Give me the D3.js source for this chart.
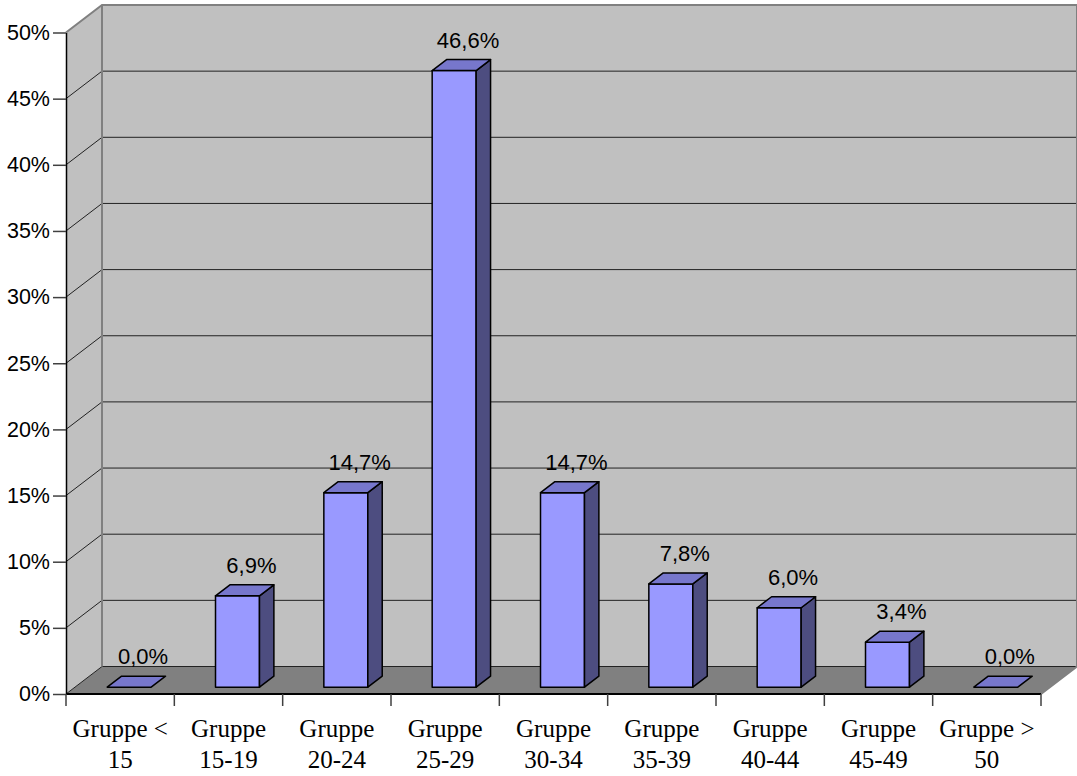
<!DOCTYPE html>
<html>
<head>
<meta charset="utf-8">
<script src="https://cdn.jsdelivr.net/npm/d3@7"></script>
<style>
  html, body { margin: 0; padding: 0; background: #fff; }
  svg { display: block; }
</style>
</head>
<body>
<svg id="chart" width="1077" height="776"></svg>
<script>
// Altersgruppen und ihre Anteile
const categories = ["Gruppe < 15", "Gruppe 15-19", "Gruppe 20-24", "Gruppe 25-29", "Gruppe 30-34",
                    "Gruppe 35-39", "Gruppe 40-44", "Gruppe 45-49", "Gruppe > 50"];
const labelLines = [["Gruppe <", "15"], ["Gruppe", "15-19"], ["Gruppe", "20-24"], ["Gruppe", "25-29"],
                    ["Gruppe", "30-34"], ["Gruppe", "35-39"], ["Gruppe", "40-44"], ["Gruppe", "45-49"],
                    ["Gruppe >", "50"]];
const values = [0.000, 0.069, 0.147, 0.466, 0.147, 0.078, 0.060, 0.034, 0.000];
const yTicks = [0, 0.05, 0.10, 0.15, 0.20, 0.25, 0.30, 0.35, 0.40, 0.45, 0.50];

const svg = d3.select("#chart");

// Front plane geometry and 3D depth offset
const x0 = 66, x1 = 1041;
const depthX = 36, depthY = 27.5;
const barD0 = 0.25, barD1 = 0.65;

const x = d3.scaleBand().domain(categories).range([x0, x1]).padding(0);
const y = d3.scaleLinear().domain([0, 0.5]).range([694, 32.5]);
const barW = x.bandwidth() * 0.406;

const de = d3.formatLocale({ decimal: ",", thousands: ".", grouping: [3], currency: ["", " €"] });
const pct = de.format(".0%");
const pct1 = de.format(".1%");

// project a point (front-plane x, value, depth 0..1) to the screen
const P = (px, v, d) => [px + depthX * d, y(v) - depthY * d];
const poly = pts => pts.map(p => p.join(",")).join(" ");

const vMax = y.domain()[1];

// left side wall
svg.append("polygon")
  .attr("points", poly([P(x0, 0, 0), P(x0, vMax, 0), P(x0, vMax, 1), P(x0, 0, 1)]))
  .attr("fill", "#c0c0c0");

// back wall
svg.append("polygon")
  .attr("points", poly([P(x0, 0, 1), P(x0, vMax, 1), P(x1, vMax, 1), P(x1, 0, 1)]))
  .attr("fill", "#c0c0c0");

// floor
svg.append("polygon")
  .attr("points", poly([P(x0, 0, 0), P(x1, 0, 0), P(x1, 0, 1), P(x0, 0, 1)]))
  .attr("fill", "#808080");

// gridlines on the back wall and the left wall
const grid = svg.append("g");
yTicks.filter(t => t < vMax).forEach(t => {
  const a = P(x0, t, 0), b = P(x0, t, 1), c = P(x1, t, 1);
  grid.append("polyline")
    .attr("points", poly([a, b, c]))
    .attr("fill", "none")
    .attr("stroke", "#222")
    .attr("stroke-width", 1);
});

// wall edges
const edge = svg.append("g").attr("fill", "none").attr("stroke", "#808080").attr("stroke-width", 2);
edge.append("polyline").attr("points", poly([P(x0, vMax, 0), P(x0, vMax, 1), P(x1, vMax, 1), P(x1, 0, 1), P(x1, 0, 0)]));
edge.append("line")
  .attr("x1", P(x0, 0, 1)[0]).attr("y1", P(x0, 0, 1)[1])
  .attr("x2", P(x0, vMax, 1)[0]).attr("y2", P(x0, vMax, 1)[1]);

// bars
const bars = svg.append("g").attr("stroke", "#000").attr("stroke-width", 1.5).attr("stroke-linejoin", "round");
categories.forEach((c, i) => {
  const v = values[i];
  const l = x(c) + (x.bandwidth() - barW) / 2;
  const r = l + barW;
  const g = bars.append("g");
  if (v > 0) {
    g.append("polygon").attr("points", poly([P(l, 0, barD0), P(r, 0, barD0), P(r, v, barD0), P(l, v, barD0)])).attr("fill", "#9999ff");
    g.append("polygon").attr("points", poly([P(r, 0, barD0), P(r, 0, barD1), P(r, v, barD1), P(r, v, barD0)])).attr("fill", "#4d4d80");
  }
  g.append("polygon").attr("points", poly([P(l, v, barD0), P(r, v, barD0), P(r, v, barD1), P(l, v, barD1)])).attr("fill", "#7777cc");
});

// value labels
const vl = svg.append("g")
  .attr("font-family", "Arial, 'Liberation Sans', sans-serif")
  .attr("font-size", 22)
  .attr("fill", "#000")
  .attr("text-anchor", "middle");
categories.forEach((c, i) => {
  const v = values[i];
  const cx = x(c) + x.bandwidth() / 2;
  const p = P(cx, v, barD1);
  vl.append("text")
    .attr("x", p[0] - 0.5)
    .attr("y", p[1] - 12)
    .text(pct1(v));
});

// value axis (front left edge)
const yAxis = svg.append("g").attr("transform", `translate(${x0},0)`)
  .call(d3.axisLeft(y).tickValues(yTicks).tickFormat(pct).tickSize(13).tickSizeOuter(0).tickPadding(3));
yAxis.select(".domain").attr("stroke", "#000").attr("stroke-width", 1.5);
yAxis.selectAll(".tick line").attr("stroke", "#404040").attr("stroke-width", 1.5);
yAxis.selectAll(".tick text")
  .attr("font-family", "Arial, 'Liberation Sans', sans-serif")
  .attr("font-size", 21.5)
  .attr("fill", "#000");

// category axis (front bottom edge)
const boundaries = d3.range(categories.length + 1).map(i => x0 + i * x.step());
const xAxis = svg.append("g");
xAxis.append("line")
  .attr("x1", x0).attr("x2", x1)
  .attr("y1", y(0)).attr("y2", y(0))
  .attr("stroke", "#000").attr("stroke-width", 2);
xAxis.selectAll("line.tk").data(boundaries).join("line")
  .attr("class", "tk")
  .attr("x1", d => d).attr("x2", d => d)
  .attr("y1", y(0)).attr("y2", y(0) + 12)
  .attr("stroke", "#404040").attr("stroke-width", 1.5);

const cl = svg.append("g")
  .attr("font-family", "'Times New Roman', 'Liberation Serif', serif")
  .attr("font-size", 25)
  .attr("fill", "#000")
  .attr("text-anchor", "middle");
categories.forEach((c, i) => {
  const t = cl.append("text").attr("x", x(c) + x.bandwidth() / 2).attr("y", 737);
  labelLines[i].forEach((s, j) => {
    t.append("tspan").attr("x", x(c) + x.bandwidth() / 2).attr("y", 737 + j * 31).text(s);
  });
});
</script>
</body>
</html>
